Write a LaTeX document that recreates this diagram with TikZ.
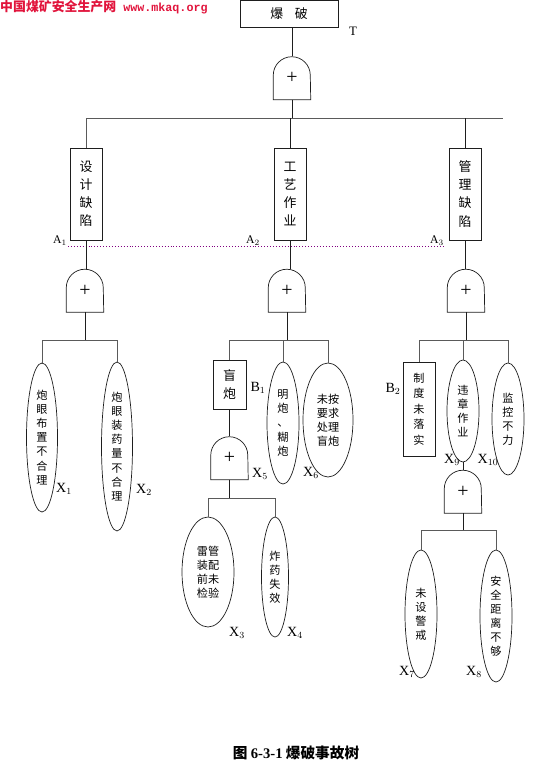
\documentclass[tikz,border=0pt]{standalone}
\usepackage{fontspec}
\setmainfont{Liberation Serif}
\newfontfamily\cjk{Noto Sans CJK SC}
\newfontfamily\urlfont{Liberation Mono}
\usetikzlibrary{shapes.geometric}
\definecolor{ftline}{RGB}{30,30,30}
\definecolor{ftbar}{RGB}{90,90,90}
\definecolor{ftmark}{RGB}{128,0,128}
\definecolor{ftred}{RGB}{225,20,60}

\begin{document}
\begin{tikzpicture}[x=0.03cm, y=-0.03cm,
    font=\cjk\fontsize{11}{15.4}\selectfont,
    event/.style={draw=ftline, line width=0.6pt, inner sep=0pt, align=center},
    basic/.style={ellipse, draw=ftline, line width=0.6pt, inner sep=0pt, align=center, font=\cjk\fontsize{9.5}{12}\selectfont},
    gate/.style={inner sep=0pt, minimum width=1.11cm, minimum height=1.29cm, font=\rmfamily\fontsize{17}{17}\selectfont},
    tag/.style={inner sep=0pt, font=\rmfamily\fontsize{12}{12}\selectfont},
    link/.style={draw=ftline, line width=0.6pt},
    bar/.style={draw=ftbar, line width=0.8pt}
  ]
    \useasboundingbox (0,0) rectangle (558,769);

    \node[anchor=west, inner sep=0pt, text=ftred] (site) at (0,7)
      {\bfseries 中国煤矿安全生产网\hspace{6pt}{\urlfont\fontsize{10}{10}\selectfont www.mkaq.org}};

    \node[event, minimum width=2.94cm, minimum height=0.81cm] (top) at (289,13.5) {爆\hspace{0.9em}破};
    \node[tag, font=\rmfamily\fontsize{11}{11}\selectfont] (tT) at (353,31) {T};
    \node[gate] (g0) at (292,78) {+};

    \node[event, minimum width=0.96cm, minimum height=2.76cm] (a1) at (86,194) {设\\计\\缺\\陷};
    \node[event, minimum width=0.96cm, minimum height=2.76cm] (a2) at (290,194) {工\\艺\\作\\业};
    \node[event, minimum width=0.96cm, minimum height=2.76cm] (a3) at (465,194) {管\\理\\缺\\陷};
    \node[tag, font=\rmfamily\fontsize{10}{10}\selectfont] (tA1) at (60,241) {A$_{1}$};
    \node[tag, font=\rmfamily\fontsize{10}{10}\selectfont] (tA2) at (253,241) {A$_{2}$};
    \node[tag, font=\rmfamily\fontsize{10}{10}\selectfont] (tA3) at (437,241) {A$_{3}$};

    \node[gate] (g1) at (85,290.5) {+};
    \node[gate] (g2) at (287,290.5) {+};
    \node[gate] (g3) at (466,290.5) {+};

    \node[basic, minimum width=0.93cm, minimum height=4.47cm] (x1) at (42,437.5) {炮\\眼\\布\\置\\不\\合\\理};
    \node[basic, minimum width=0.93cm, minimum height=5.07cm] (x2) at (117,446.5) {炮\\眼\\装\\药\\量\\不\\合\\理};

    \node[event, minimum width=0.99cm, minimum height=1.47cm] (b1) at (229.5,384.5) {盲\\炮};
    \node[basic, minimum width=0.96cm, minimum height=3.66cm] (x5) at (283,423) {明\\炮\\、\\糊\\炮};
    \node[basic, minimum width=1.5cm, minimum height=3.42cm] (x6) at (328,420) {未按\\要求\\处理\\盲炮};
    \node[gate] (g4) at (229.5,458) {+};
    \node[basic, minimum width=1.56cm, minimum height=3.3cm] (x3) at (208,572) {雷管\\装配\\前未\\检验};
    \node[basic, minimum width=0.81cm, minimum height=3.6cm] (x4) at (275,577) {炸\\药\\失\\效};

    \node[event, minimum width=0.96cm, minimum height=2.82cm, font=\cjk\fontsize{9.5}{13.2}\selectfont] (b2) at (419,409) {制\\度\\未\\落\\实};
    \node[basic, minimum width=0.96cm, minimum height=3.06cm] (x9) at (463,411) {违\\章\\作\\业};
    \node[basic, minimum width=0.96cm, minimum height=3.36cm] (x10) at (508,419) {监\\控\\不\\力};
    \node[gate] (g5) at (463,491.5) {+};
    \node[basic, minimum width=0.96cm, minimum height=3.84cm] (x7) at (421,614) {未\\设\\警\\戒};
    \node[basic, minimum width=0.96cm, minimum height=3.96cm] (x8) at (496,616) {安\\全\\距\\离\\不\\够};

    \node[tag] (tB1) at (258,388) {B$_{1}$};
    \node[tag] (tB2) at (393,389) {B$_{2}$};
    \node[tag] (tX1) at (64,489) {X$_{1}$};
    \node[tag] (tX2) at (144,490) {X$_{2}$};
    \node[tag] (tX3) at (237,633) {X$_{3}$};
    \node[tag] (tX4) at (295,633) {X$_{4}$};
    \node[tag] (tX5) at (260,474) {X$_{5}$};
    \node[tag] (tX6) at (311,473) {X$_{6}$};
    \node[tag] (tX7) at (407,672) {X$_{7}$};
    \node[tag] (tX8) at (474,672) {X$_{8}$};
    \node[tag] (tX9) at (452,460) {X$_{9}$};
    \node[tag] (tX10) at (488,460) {X$_{10}$};

    \node[inner sep=0pt, font=\cjk\bfseries\fontsize{12.5}{12.5}\selectfont] (caption) at (296,753)
      {图 {\rmfamily\bfseries 6-3-1} 爆破事故树};

    \foreach \g in {g0,g1,g2,g3,g4,g5}
      \draw[link] (\g.south west) -- ([yshift=0.735cm]\g.south west)
        arc[start angle=180, end angle=0, radius=0.555cm] -- (\g.south east) -- cycle;

    \coordinate (dotl) at (68,246);
    \coordinate (dotr) at (443,246);
    \draw[ftmark, dotted, line width=0.5pt] (dotl) -- (dotr);

    \coordinate (bar0) at (292,118);
    \coordinate (bar0end) at (503,118);
    \coordinate (bar1) at (85,340);
    \coordinate (bar2) at (287,340);
    \coordinate (bar3) at (466,340);
    \coordinate (bar4) at (229.5,498);
    \coordinate (bar5) at (463,530);

    \draw[link] (g0.north) -- (g0.north |- top.south);
    \draw[link] (g0.south) -- (bar0);
    \draw[bar] (a1.north) |- (bar0end);
    \draw[link] (a2.north) -- (a2.north |- bar0);
    \draw[link] (a3.north) -- (a3.north |- bar0);
    \foreach \a/\g in {a1/g1,a2/g2,a3/g3}
      \draw[link] (\a.south) -- (\a.south |- \g.north);

    \draw[link] (g1.south) -- (bar1);
    \foreach \m in {x1,x2}
      \draw[bar] (\m.north) |- (bar1);

    \draw[link] (g2.south) -- (bar2);
    \foreach \m in {b1,x5,x6}
      \draw[bar] (\m.north) |- (bar2);
    \draw[link] (b1.south) -- (g4.north);
    \draw[link] (g4.south) -- (bar4);
    \foreach \m in {x3,x4}
      \draw[bar] (\m.north) |- (bar4);

    \draw[link] (g3.south) -- (bar3);
    \foreach \m in {b2,x9,x10}
      \draw[bar] (\m.north) |- (bar3);
    \draw[link] (x9.south) -- (g5.north);
    \draw[link] (g5.south) -- (bar5);
    \foreach \m in {x7,x8}
      \draw[bar] (\m.north) |- (bar5);
  \end{tikzpicture}
\end{document}
